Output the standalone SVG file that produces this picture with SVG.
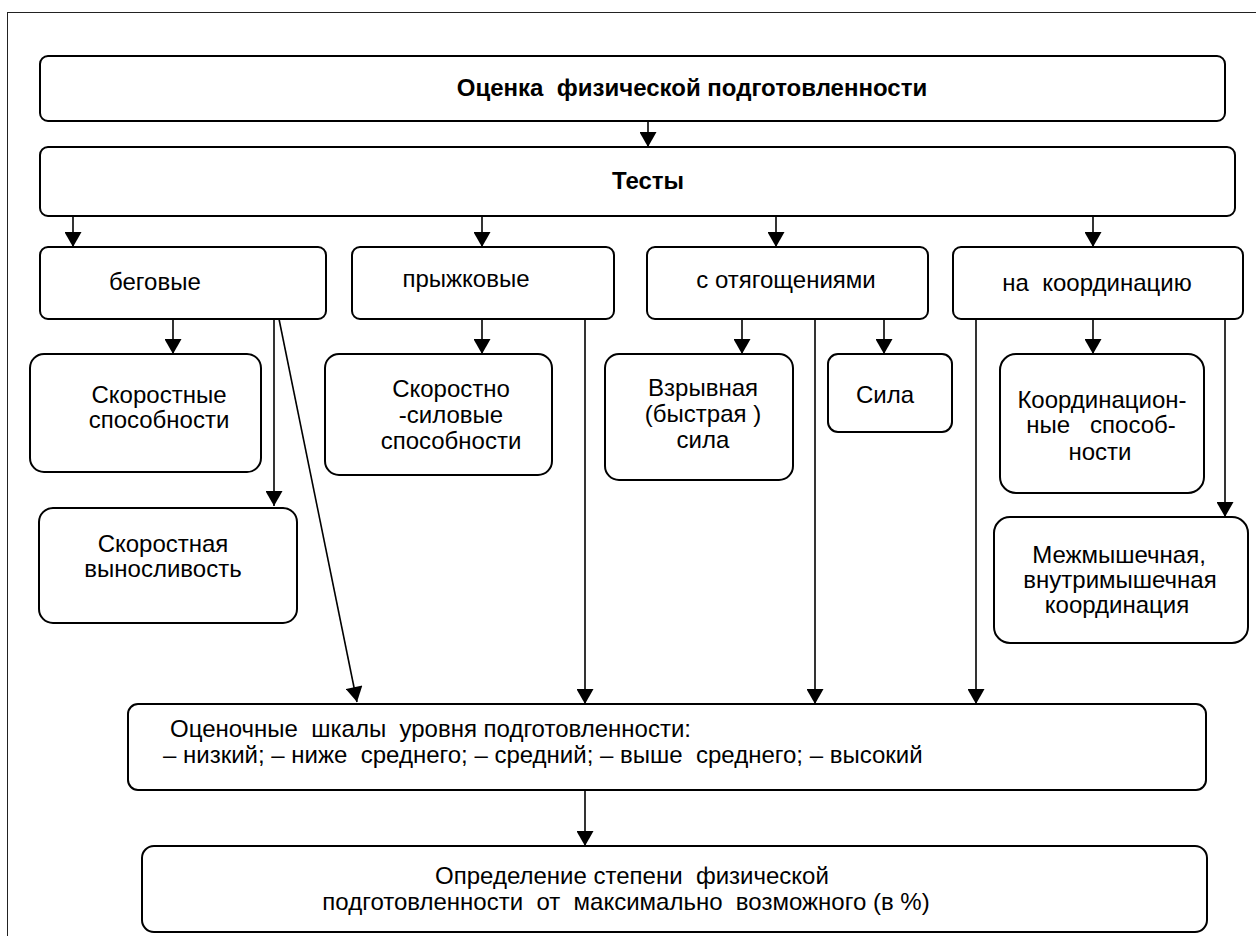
<svg xmlns="http://www.w3.org/2000/svg" width="1256" height="936" viewBox="0 0 1256 936">
<style>
.box{fill:#fff;stroke:#000;stroke-width:2}
.t{font-family:"Liberation Sans",Arial,sans-serif;font-size:24px;fill:#000}
.c{text-anchor:middle}
.b{font-weight:bold;font-size:24px}
.ln{stroke:#000;stroke-width:1.6;fill:none}
.pre{white-space:pre}
</style>
<defs>
<marker id="ah" markerUnits="userSpaceOnUse" markerWidth="16" markerHeight="17" viewBox="0 0 15 17" refX="15" refY="8.5" orient="auto">
<path d="M0,0 L15,8.5 L0,17 z" fill="#000"/>
</marker>
</defs>
<rect x="7.5" y="12.5" width="1300" height="1000" fill="none" stroke="#222" stroke-width="1"/>

<g id="connectors">
<line class="ln" x1="648" y1="121" x2="648" y2="147" marker-end="url(#ah)"/>
<line class="ln" x1="73" y1="216" x2="73" y2="247" marker-end="url(#ah)"/>
<line class="ln" x1="482" y1="216" x2="482" y2="247" marker-end="url(#ah)"/>
<line class="ln" x1="776" y1="216" x2="776" y2="247" marker-end="url(#ah)"/>
<line class="ln" x1="1093" y1="216" x2="1093" y2="247" marker-end="url(#ah)"/>
<line class="ln" x1="173" y1="319" x2="173" y2="354" marker-end="url(#ah)"/>
<line class="ln" x1="274" y1="319" x2="274" y2="506" marker-end="url(#ah)"/>
<line class="ln" x1="279" y1="319" x2="357" y2="702" marker-end="url(#ah)"/>
<line class="ln" x1="482" y1="319" x2="482" y2="354" marker-end="url(#ah)"/>
<line class="ln" x1="585" y1="319" x2="585" y2="704" marker-end="url(#ah)"/>
<line class="ln" x1="742" y1="319" x2="742" y2="354" marker-end="url(#ah)"/>
<line class="ln" x1="815" y1="319" x2="815" y2="704" marker-end="url(#ah)"/>
<line class="ln" x1="884" y1="319" x2="884" y2="354" marker-end="url(#ah)"/>
<line class="ln" x1="976" y1="319" x2="976" y2="704" marker-end="url(#ah)"/>
<line class="ln" x1="1093" y1="319" x2="1093" y2="354" marker-end="url(#ah)"/>
<line class="ln" x1="1225" y1="319" x2="1225" y2="517" marker-end="url(#ah)"/>
<line class="ln" x1="585" y1="790" x2="585" y2="846" marker-end="url(#ah)"/>
</g>

<g id="n-ocenka">
<rect class="box" x="40" y="56" width="1185" height="65" rx="8"/>
<text class="t c b pre" x="692" y="96">Оценка  физической подготовленности</text>
</g>
<g id="n-testy">
<rect class="box" x="40" y="147" width="1195" height="69" rx="8"/>
<text class="t c b" x="648" y="189">Тесты</text>
</g>
<g id="n-begovye">
<rect class="box" x="40" y="247" width="286" height="72" rx="8"/>
<text class="t" x="109" y="290">беговые</text>
</g>
<g id="n-pryzhkovye">
<rect class="box" x="352" y="247" width="262" height="72" rx="8"/>
<text class="t c" x="466" y="287">прыжковые</text>
</g>
<g id="n-otyag">
<rect class="box" x="647" y="247" width="281" height="72" rx="8"/>
<text class="t c" x="786" y="288">с отягощениями</text>
</g>
<g id="n-koord">
<rect class="box" x="953" y="247" width="290" height="72" rx="8"/>
<text class="t c pre" x="1097" y="291">на  координацию</text>
</g>
<g id="n-skorost">
<rect class="box" x="30" y="354" width="231" height="118" rx="14"/>
<text class="t c" x="159" y="403">Скоростные</text>
<text class="t c" x="159" y="428">способности</text>
</g>
<g id="n-skorvyn">
<rect class="box" x="39" y="508" width="258" height="115" rx="14"/>
<text class="t c" x="163" y="552">Скоростная</text>
<text class="t c" x="163" y="577">выносливость</text>
</g>
<g id="n-skorsil">
<rect class="box" x="325" y="354" width="227" height="121" rx="14"/>
<text class="t c" x="451" y="397">Скоростно</text>
<text class="t c" x="451" y="423">-силовые</text>
<text class="t c" x="451" y="449">способности</text>
</g>
<g id="n-vzryv">
<rect class="box" x="605" y="354" width="188" height="126" rx="14"/>
<text class="t c" x="703" y="396">Взрывная</text>
<text class="t c pre" x="703" y="422">(быстрая )</text>
<text class="t c" x="703" y="448">сила</text>
</g>
<g id="n-sila">
<rect class="box" x="828" y="354" width="124" height="78" rx="10"/>
<text class="t c" x="885" y="403">Сила</text>
</g>
<g id="n-koordsp">
<rect class="box" x="1000" y="354" width="204" height="139" rx="16"/>
<text class="t c" x="1102" y="408">Координацион-</text>
<text class="t c pre" x="1101" y="433">ные   способ-</text>
<text class="t c" x="1100" y="460">ности</text>
</g>
<g id="n-mezh">
<rect class="box" x="994" y="517" width="254" height="126" rx="16"/>
<text class="t c" x="1119" y="563">Межмышечная,</text>
<text class="t c" x="1120" y="588">внутримышечная</text>
<text class="t c" x="1117" y="613">координация</text>
</g>
<g id="n-shkaly">
<rect class="box" x="128" y="704" width="1078" height="86" rx="10"/>
<text class="t pre" x="170" y="737">Оценочные  шкалы  уровня подготовленности:</text>
<text class="t pre" x="163" y="763">– низкий; – ниже  среднего; – средний; – выше  среднего; – высокий</text>
</g>
<g id="n-opred">
<rect class="box" x="142" y="846" width="1065" height="86" rx="12"/>
<text class="t c pre" x="632" y="884">Определение степени  физической</text>
<text class="t c pre" x="626" y="910">подготовленности  от  максимально  возможного (в %)</text>
</g>
</svg>
